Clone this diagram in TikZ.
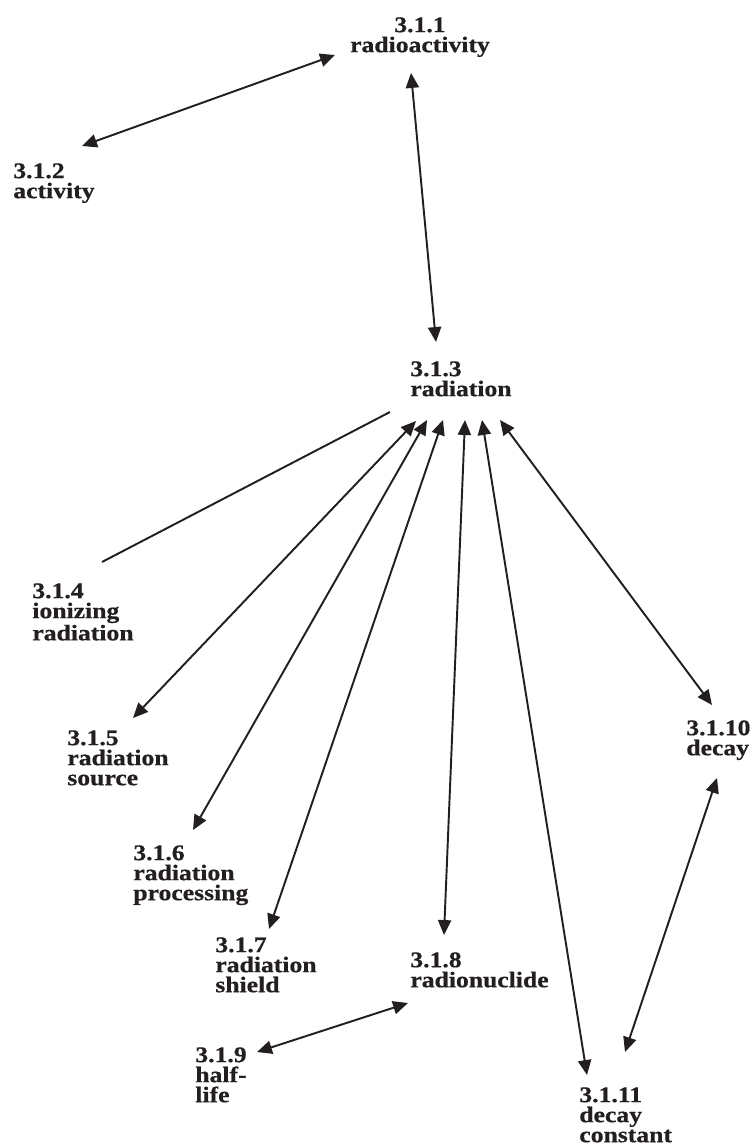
\documentclass[tikz,border=0pt]{standalone}
\usepackage{fontspec}
\setmainfont{Liberation Serif}[FakeStretch=1.15, FakeBold=0.6]
\usetikzlibrary{arrows.meta}
\definecolor{ink}{HTML}{231F20}

\begin{document}
\begin{tikzpicture}[
  x=0.02cm, y=-0.02cm,
  term/.style={anchor=north west, inner sep=0pt, align=left, text=ink,
               font=\fontsize{12.7}{11.4}\selectfont\bfseries},
  arr/.style={{Triangle[length=8.5pt,width=7.5pt]}-{Triangle[length=8.5pt,width=7.5pt]},
              draw=ink, line width=1.1pt},
  ln/.style={draw=ink, line width=1.1pt}]

\useasboundingbox (0,0) rectangle (755,1147);

\node[term, anchor=north, align=center] (radioact) at (420,17) {3.1.1\\radioactivity};
\node[term] (activity) at (13,163) {3.1.2\\activity};
\node[term] (radiation) at (410,361) {3.1.3\\radiation};
\node[term] (ionizing) at (32,583) {3.1.4\\ionizing\\radiation};
\node[term] (source) at (67,730) {3.1.5\\radiation\\source};
\node[term] (processing) at (133,845) {3.1.6\\radiation\\processing};
\node[term] (shield) at (215,937) {3.1.7\\radiation\\shield};
\node[term] (nuclide) at (410,952) {3.1.8\\radionuclide};
\node[term] (halflife) at (195,1047) {3.1.9\\half-\\life};
\node[term] (decay) at (686,720) {3.1.10\\decay};
\node[term] (constant) at (579,1087) {3.1.11\\decay\\constant};

% links between terms
\draw[arr] ([shift={(-85,38)}]radioact.north) -- ([shift={(69,-17)}]activity.north west);
\draw[arr] ([shift={(-9,56)}]radioact.north) -- ([shift={(26,-19)}]radiation.north west);
\draw[ln] ([shift={(-20,51)}]radiation.north west) -- ([shift={(70,-21)}]ionizing.north west);
\draw[arr] ([shift={(6,60)}]radiation.north west) -- ([shift={(66,-12)}]source.north west);
\draw[arr] ([shift={(17,59)}]radiation.north west) -- ([shift={(60,-15)}]processing.north west);
\draw[arr] ([shift={(33,59)}]radiation.north west) -- ([shift={(54,-8)}]shield.north west);
\draw[arr] ([shift={(55,59)}]radiation.north west) -- ([shift={(34,-17)}]nuclide.north west);
\draw[arr] ([shift={(72,59)}]radiation.north west) -- ([shift={(8,-12)}]constant.north west);
\draw[arr] ([shift={(90,59)}]radiation.north west) -- ([shift={(26,-15)}]decay.north west);
\draw[arr] ([shift={(31,58)}]decay.north west) -- ([shift={(46,-35)}]constant.north west);
\draw[arr] ([shift={(-2,51)}]nuclide.north west) -- ([shift={(62,5)}]halflife.north west);
\end{tikzpicture}
\end{document}
